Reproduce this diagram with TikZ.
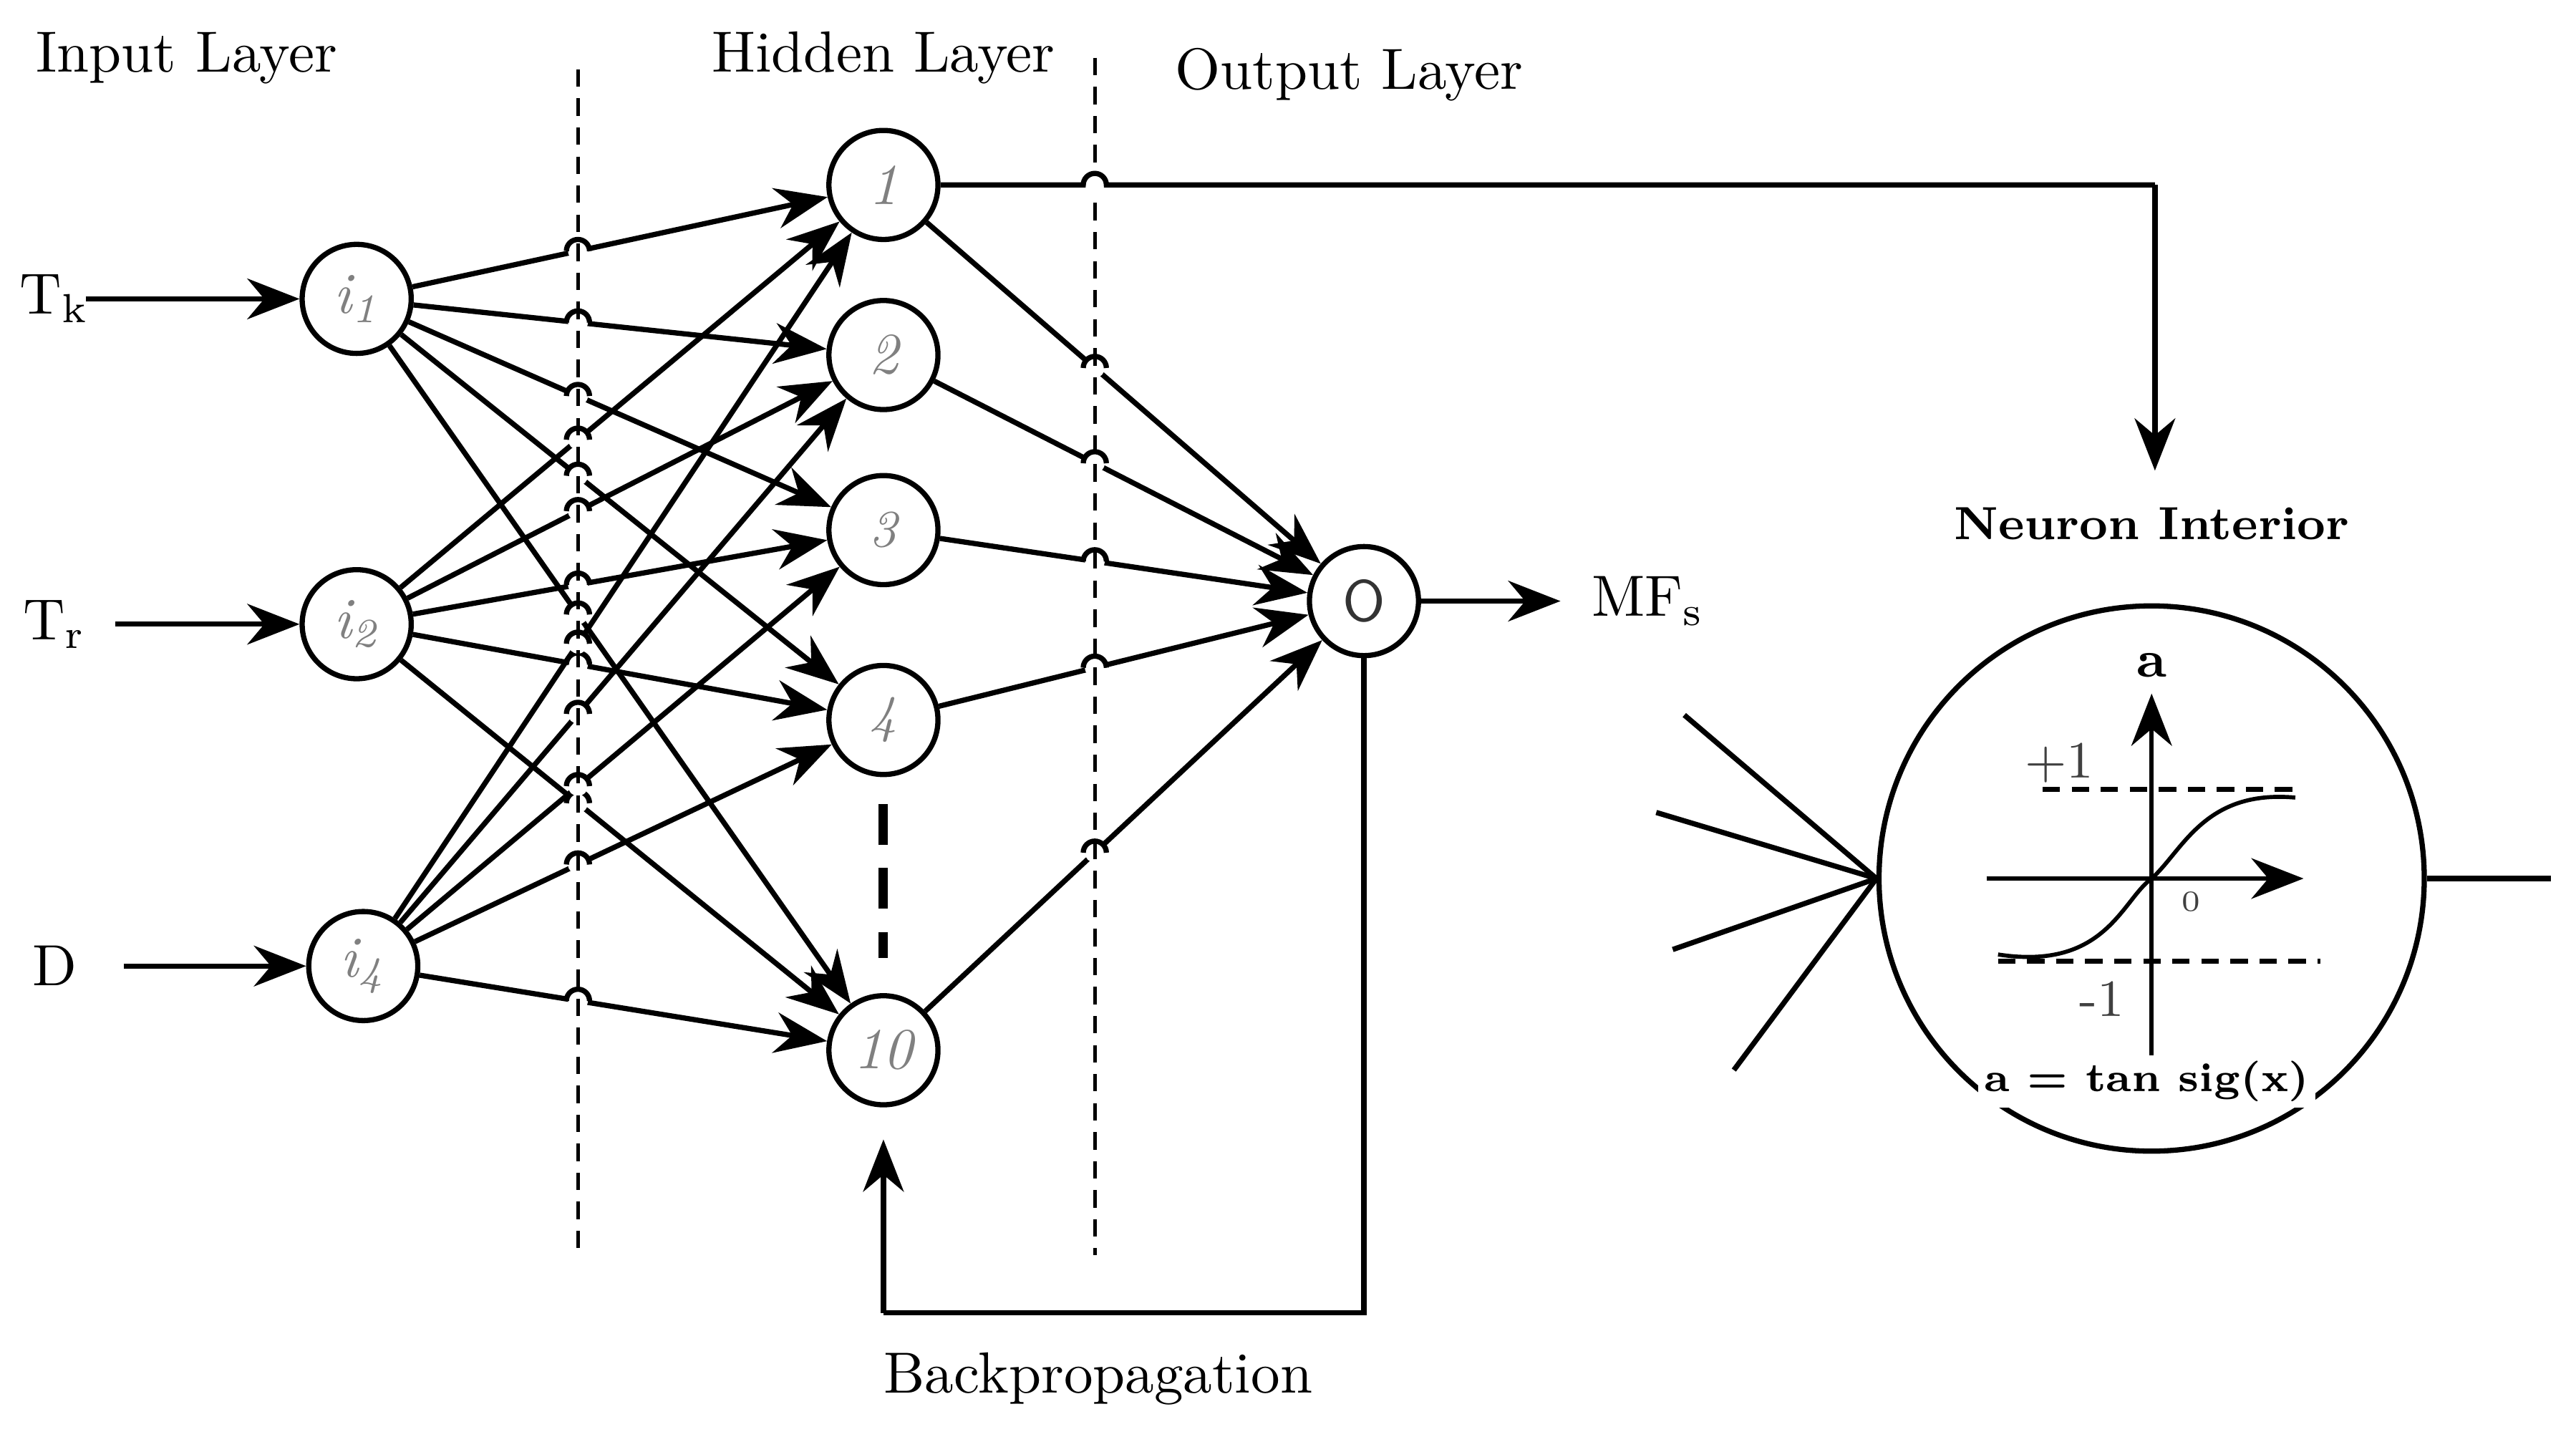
\documentclass[tikz,border=0pt]{standalone}
\usetikzlibrary{arrows.meta}
\begin{document}
\begin{tikzpicture}[x={(0.01cm,0)},y={(0,-0.01cm)},
  neu/.style={circle,draw,line width=0.9pt,minimum size=0.66cm,inner sep=0pt,font=\itshape\color{gray}},
  con/.style={line width=0.9pt,-{Stealth[length=9pt,width=7pt]}},
  ln/.style={line width=0.9pt},
  lab/.style={font=\fontsize{10}{12}\selectfont},
  dsh/.style={dash pattern=on 3pt off 2pt,line width=0.6pt}]
\useasboundingbox (0,0) rectangle (1560,876);
% nodes
\node[neu] (i1) at (216,181) {i\textsubscript{1}};
\node[neu] (i2) at (216,378) {i\textsubscript{2}};
\node[neu] (i4) at (220,585) {i\textsubscript{4}};
\node[neu] (h1) at (535,112) {1};
\node[neu] (h2) at (535,215) {2};
\node[neu] (h3) at (535,321) {\small 3};
\node[neu] (h4) at (535,436) {\small 4};
\node[neu] (h10) at (535,636) {10};
\node[neu,font=\sffamily\color{black!80}] (o) at (826,364) {O};
% labels
\node[lab] at (113,35) {Input Layer};
\node[lab] at (535,35) {Hidden Layer};
\node[lab] at (817,45) {Output Layer};
\node[lab] (tk) at (33,181) {T\textsubscript{k}};
\node[lab] (tr) at (33,378) {T\textsubscript{r}};
\node[lab] (d) at (33,585) {D};
\node[lab] (mf) at (998,364) {MF\textsubscript{s}};
\node[lab] at (665,835) {Backpropagation};
\node[font=\bfseries\footnotesize] (ni) at (1303,317) {Neuron Interior};
% input arrows
\coordinate (tka) at (52,181); \coordinate (tra) at (70,378); \coordinate (da) at (75,585);
\draw[con] (tka) -- (i1); \draw[con] (tra) -- (i2); \draw[con] (da) -- (i4);
% input-hidden
\foreach \a in {i1,i2,i4}{\foreach \b in {h1,h2,h3,h4,h10}{\draw[con] (\a) -- (\b);}}
\foreach \b in {h1,h2,h3,h4,h10}{\draw[con] (\b) -- (o);}
% hops
\foreach \xa/\ya/\xb/\yb in {216/181/535/112,216/181/535/215,216/181/535/321,216/181/535/436,216/181/535/636,
 216/378/535/112,216/378/535/215,216/378/535/321,216/378/535/436,216/378/535/636,
 220/585/535/112,220/585/535/215,220/585/535/321,220/585/535/436,220/585/535/636}{
 \pgfmathsetmacro\yy{\ya+(350-\xa)/(\xb-\xa)*(\yb-\ya)}
 \fill[white] (350,\yy) circle (6);
 \draw[ln] (343,\yy) arc(180:360:7);}
\foreach \ya in {112,215,321,436,636}{
 \pgfmathsetmacro\yy{\ya+(663-535)/(826-535)*(364-\ya)}
 \fill[white] (663,\yy) circle (6);
 \draw[ln] (656,\yy) arc(180:360:7);}
% dashed lines
\coordinate (d1a) at (350,42); \coordinate (d1b) at (350,762);
\coordinate (d2a) at (663,35); \coordinate (d2b) at (663,760);
\draw[dsh] (d1a) -- (d1b); \draw[dsh] (d2a) -- (d2b);
\coordinate (d3a) at (535,487); \coordinate (d3b) at (535,580);
\draw[line width=1.6pt,dash pattern=on 7pt off 4pt] (d3a) -- (d3b);
% output top line
\coordinate (c1) at (1305,112); \coordinate (c2) at (1305,285);
\fill[white] (663,112) circle (6);
\draw[ln] (h1.east) -- (656,112) arc(180:360:7) -- (c1);
\draw[con] (c1) -- (c2);
\coordinate (oa) at (945,364);
\draw[con] (o) -- (oa);
% backprop
\coordinate (b1) at (826,795); \coordinate (b2) at (535,795); \coordinate (b3) at (535,690);
\draw[ln] (o.south) -- (b1) -- (b2);
\draw[con] (b2) -- (b3);
% neuron interior
\node[circle,draw,line width=0.9pt,minimum size=3.3cm,inner sep=0pt] (big) at (1303,532) {};
\foreach \p in {(1050,648),(1013,575),(1003,492),(1020,433)}{\draw[ln] \p -- (big.west);}
\coordinate (out) at (1545,532);
\draw[ln] (big.east) -- (out);
\coordinate (ax1) at (1203,532); \coordinate (ax2) at (1395,532);
\coordinate (ay1) at (1303,650); \coordinate (ay2) at (1303,420);
\draw[con,line width=0.7pt] (ax1) -- (ax2);
\draw[con,line width=0.7pt] (ay1) -- (ay2);
\draw[dsh,line width=0.8pt] (1237,478) -- (1390,478);
\draw[dsh,line width=0.8pt] (1210,582) -- (1405,582);
\draw[line width=0.7pt] (1210,578) .. controls (1275,588) and (1285,545) .. (1303,532) .. controls (1322,515) and (1335,478) .. (1390,483);
\node[font=\bfseries\small] at (1303,403) {a};
\node[font=\small,text=black!75] at (1247,462) {+1};
\node[font=\small,text=black!75] at (1273,605) {-1};
\node[font=\tiny,text=black!75] at (1327,546) {0};
\node[font=\bfseries\fontsize{7}{8}\selectfont,fill=white,inner sep=1pt] at (1300,655) {a = tan sig(x)};
\end{tikzpicture}
\end{document}
